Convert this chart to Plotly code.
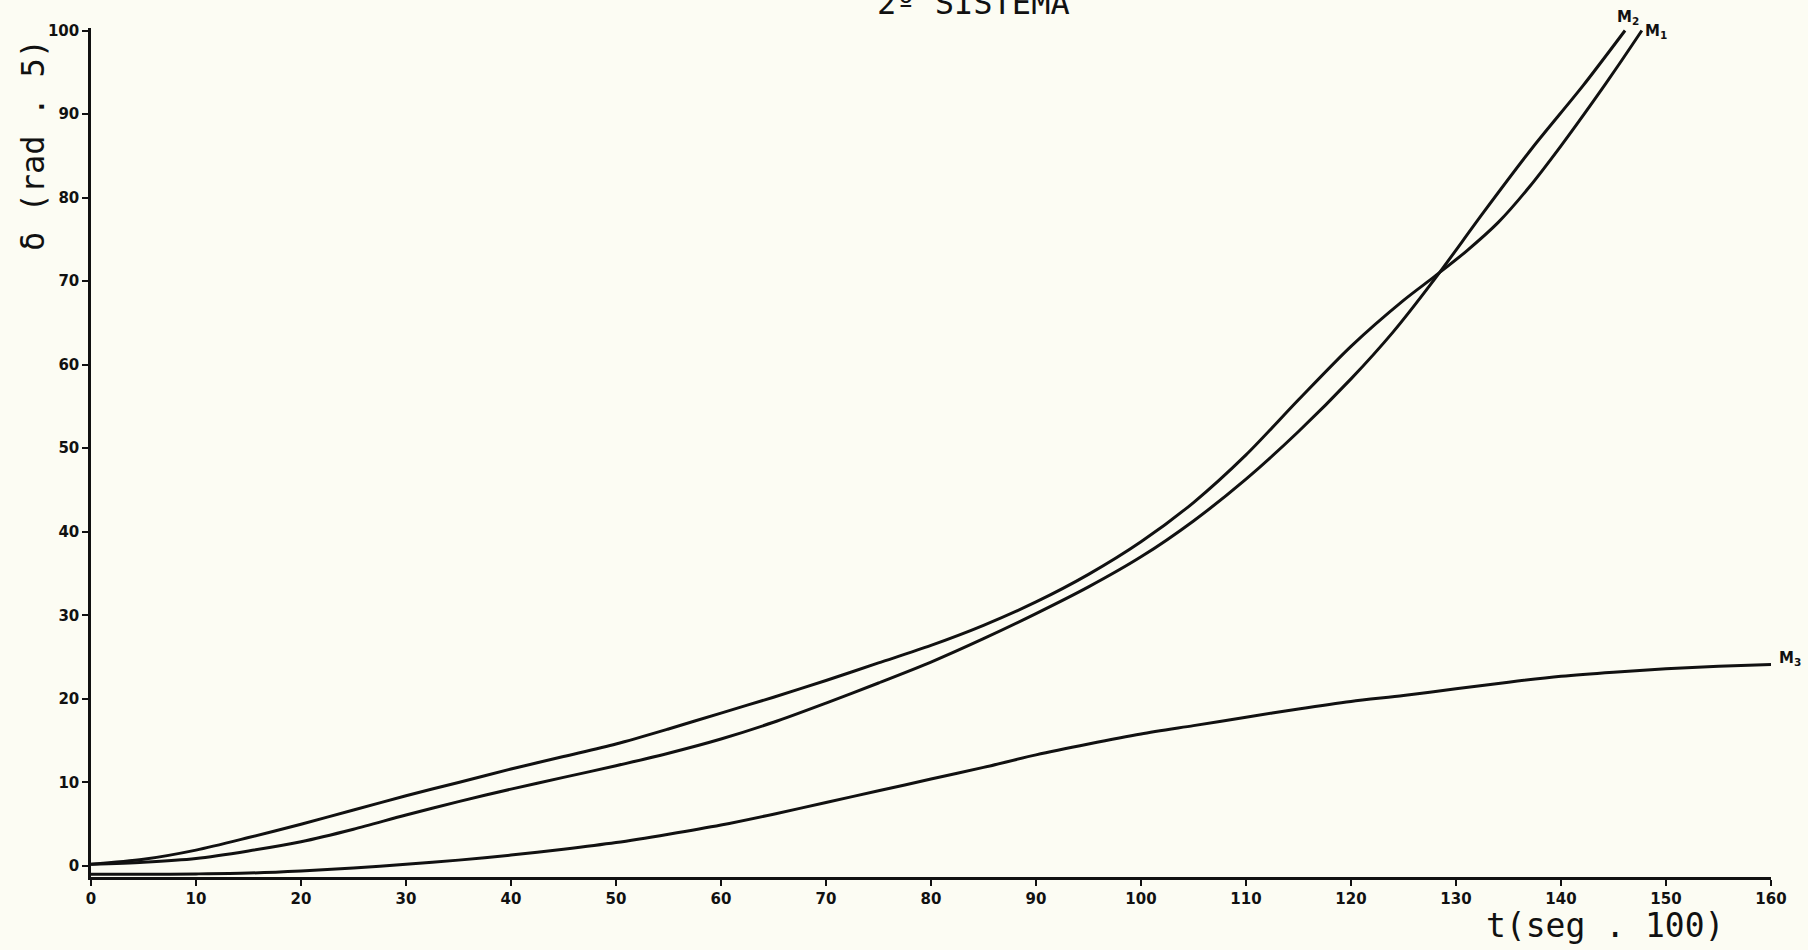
import plotly.graph_objects as go

# ---- data ----
t_m1 = [0, 5, 10, 15, 20, 25, 30, 35, 40, 45, 50, 55, 60, 65, 70, 75, 80, 85, 90, 95,
        100, 105, 110, 115, 120, 125, 128, 131, 134, 137, 140, 143, 145.5, 147.7]
d_m1 = [0.2, 0.8, 1.9, 3.4, 5.0, 6.7, 8.4, 10.0, 11.6, 13.1, 14.6, 16.4, 18.3, 20.2, 22.2, 24.3, 26.4, 28.8, 31.6, 34.9,
        38.8, 43.5, 49.2, 55.8, 62.2, 67.7, 70.6, 73.6, 77.0, 81.3, 86.2, 91.4, 95.9, 100.0]

t_m2 = [0, 5, 10, 15, 20, 25, 30, 35, 40, 45, 50, 55, 60, 65, 70, 75, 80, 85, 90, 95,
        100, 105, 110, 115, 120, 124, 128, 132.6, 137.3, 142.1, 146.1]
d_m2 = [0.2, 0.45, 0.9, 1.8, 2.9, 4.4, 6.1, 7.7, 9.2, 10.6, 12.0, 13.5, 15.2, 17.2, 19.5, 21.9, 24.4, 27.2, 30.2, 33.4,
        37.0, 41.3, 46.3, 52.0, 58.3, 63.9, 70.3, 78.2, 86.0, 93.4, 100.0]

t_m3 = [0, 5, 10, 15, 20, 25, 30, 35, 40, 45, 50, 55, 60, 65, 70, 75, 80, 85, 90, 95,
        100, 105, 110, 115, 120, 125, 130, 135, 140, 145, 150, 155, 160]
d_m3 = [-1.0, -1.0, -0.95, -0.85, -0.6, -0.25, 0.2, 0.7, 1.3, 2.0, 2.8, 3.8, 4.9, 6.2, 7.6, 9.0, 10.4, 11.8, 13.3, 14.6,
        15.8, 16.8, 17.8, 18.8, 19.7, 20.4, 21.2, 22.0, 22.7, 23.2, 23.6, 23.9, 24.1]

x_ticks = list(range(0, 161, 10))
y_ticks = list(range(0, 101, 10))

series = [("M1", t_m1, d_m1), ("M2", t_m2, d_m2), ("M3", t_m3, d_m3)]

BG = "#fcfcf3"
INK = "#111111"
MONO = "DejaVu Sans Mono"

fig = go.Figure()
for name, t, d in series:
    fig.add_trace(go.Scatter(
        x=t, y=d, mode="lines", name=name,
        line=dict(color=INK, width=3, shape="spline", smoothing=0.8),
        showlegend=False, hoverinfo="skip",
    ))

# paper coords: x = (px - 91) / 1680 ; y = (877 - py) / 849
lbl_font = dict(family="DejaVu Sans", size=15, color=INK, weight="bold")
for txt, px, py in [("M<sub>2</sub>", 1628, 18), ("M<sub>1</sub>", 1656, 31), ("M<sub>3</sub>", 1790, 658)]:
    fig.add_annotation(x=(px - 91) / 1680, y=(877 - py) / 849, xref="paper", yref="paper",
                       xanchor="center", yanchor="middle", text=txt,
                       showarrow=False, font=lbl_font)

# title (cut at top edge as in the scan)
fig.add_annotation(x=(973 - 91) / 1680, y=(877 - 24) / 849, xref="paper", yref="paper",
                   xanchor="center", yanchor="bottom",
                   text="2º SISTEMA", showarrow=False,
                   font=dict(family=MONO, size=32, color=INK))
# axis titles
fig.add_annotation(x=(33 - 91) / 1680, y=(877 - 145) / 849, xref="paper", yref="paper",
                   xanchor="center", yanchor="middle", textangle=-90,
                   text="δ (rad . 5)", showarrow=False,
                   font=dict(family=MONO, size=32, color=INK))
fig.add_annotation(x=(1605 - 91) / 1680, y=(877 - 925) / 849, xref="paper", yref="paper",
                   xanchor="center", yanchor="middle",
                   text="t(seg . 100)", showarrow=False,
                   font=dict(family=MONO, size=33, color=INK))

tick_font = dict(family="DejaVu Sans", size=15, color=INK, weight="bold")
fig.update_layout(
    width=1808, height=950,
    margin=dict(l=91, r=37, t=28, b=73),
    paper_bgcolor=BG, plot_bgcolor=BG,
    xaxis=dict(range=[0, 160], tickvals=x_ticks, ticktext=[str(v) for v in x_ticks],
               showgrid=False, zeroline=False, showline=True, linecolor=INK, linewidth=3,
               ticks="outside", ticklen=6, tickwidth=2, tickcolor=INK, tickfont=tick_font),
    yaxis=dict(range=[-1.32, 100.3], tickvals=y_ticks, ticktext=[str(v) for v in y_ticks],
               showgrid=False, zeroline=False, showline=True, linecolor=INK, linewidth=2.5,
               ticks="outside", ticklen=6, tickwidth=2, tickcolor=INK, tickfont=tick_font),
)

fig.write_html(
    "out.html",
    config={"displayModeBar": False},
    post_script="document.body.style.margin='0';document.body.style.background='" + BG + "';"
                "document.documentElement.style.overflow='hidden';",
)
